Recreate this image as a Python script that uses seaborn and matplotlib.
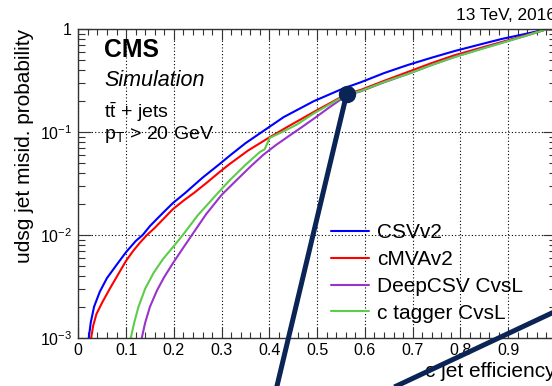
import numpy as np
import pandas as pd
import matplotlib
matplotlib.use("Agg")
import matplotlib.pyplot as plt
import seaborn as sns
from matplotlib.ticker import MultipleLocator, FixedLocator, FixedFormatter, LogLocator, NullFormatter, FuncFormatter

# ---------------- data ----------------
taggers = ["CSVv2", "cMVAv2", "DeepCSV CvsL", "c tagger CvsL"]
colors = ["#0000ff", "#ff0000", "#9a33cc", "#5ccc4a"]

csv_eff = [0.022, 0.026, 0.033, 0.045, 0.060, 0.080, 0.100, 0.120, 0.135, 0.150, 0.175, 0.198, 0.223,
           0.260, 0.296, 0.317, 0.350, 0.384, 0.430, 0.493, 0.554, 0.591, 0.640, 0.690, 0.740, 0.788,
           0.840, 0.886, 0.935, 0.980, 1.000]
csv_mis = [0.001, 0.0014, 0.0020, 0.0028, 0.0038, 0.0051, 0.0068, 0.0087, 0.0100, 0.0122, 0.0160, 0.0204,
           0.0254, 0.036, 0.049, 0.059, 0.078, 0.100, 0.140, 0.200, 0.265, 0.305, 0.375, 0.450, 0.530,
           0.615, 0.710, 0.805, 0.900, 1.000, 1.000]

cmva_eff = [0.027, 0.031, 0.038, 0.050, 0.066, 0.083, 0.100, 0.115, 0.129, 0.144, 0.160, 0.180, 0.198,
            0.220, 0.244, 0.270, 0.296, 0.317, 0.355, 0.395, 0.440, 0.493, 0.562, 0.591, 0.640, 0.690,
            0.740, 0.788, 0.840, 0.886, 0.935, 0.980, 1.000]
cmva_mis = [0.001, 0.0013, 0.0017, 0.0022, 0.0030, 0.0041, 0.0056, 0.0070, 0.0084, 0.0100, 0.0117, 0.0146,
            0.0178, 0.0215, 0.0260, 0.0325, 0.041, 0.049, 0.066, 0.086, 0.114, 0.157, 0.235, 0.257, 0.315,
            0.385, 0.470, 0.560, 0.655, 0.752, 0.870, 1.000, 1.000]

deep_eff = [0.133, 0.140, 0.150, 0.165, 0.180, 0.198, 0.218, 0.238, 0.268, 0.300, 0.331, 0.360, 0.387,
            0.414, 0.440, 0.467, 0.493, 0.527, 0.562, 0.591, 0.640, 0.690, 0.740, 0.788, 0.840, 0.886,
            0.935, 0.980, 1.000]
deep_mis = [0.001, 0.0014, 0.0020, 0.0029, 0.0039, 0.0053, 0.0073, 0.0100, 0.0160, 0.0245, 0.034, 0.046,
            0.060, 0.075, 0.091, 0.111, 0.135, 0.176, 0.228, 0.249, 0.305, 0.368, 0.450, 0.540, 0.640,
            0.740, 0.860, 1.000, 1.000]

ctag_eff = [0.110, 0.117, 0.126, 0.140, 0.158, 0.177, 0.198, 0.219, 0.250, 0.292, 0.317, 0.350, 0.380,
            0.390, 0.401, 0.430, 0.457, 0.493, 0.562, 0.591, 0.640, 0.690, 0.740, 0.788, 0.840, 0.886,
            0.935, 0.980, 1.000]
ctag_mis = [0.001, 0.0014, 0.0020, 0.0030, 0.0043, 0.0058, 0.0076, 0.0100, 0.0155, 0.0255, 0.034, 0.048,
            0.064, 0.068, 0.088, 0.102, 0.118, 0.152, 0.232, 0.251, 0.307, 0.368, 0.450, 0.537, 0.635,
            0.735, 0.860, 1.000, 1.000]

# annotation overlay (dot + two thick connector lines), in data coordinates
dot_eff, dot_mis = [0.562], [0.237]
line1_eff, line1_mis = [0.562, 0.384], [0.237, 8.1e-5]
line2_eff, line2_mis = [0.568, 1.091], [2.07e-4, 2.87e-3]
navy = "#0a2456"

xtick_vals = [0.0, 0.1, 0.2, 0.3, 0.4, 0.5, 0.6, 0.7, 0.8, 0.9, 1.0]
ytick_vals = [1e-3, 1e-2, 1e-1, 1.0]
ytick_labels = ["10$^{-3}$", "10$^{-2}$", "10$^{-1}$", "1"]

# ---------------- style ----------------
sns.set_theme(style="ticks")
plt.rcParams["font.family"] = ["Liberation Sans", "DejaVu Sans"]
plt.rcParams["mathtext.fontset"] = "custom"
plt.rcParams["mathtext.rm"] = "Liberation Sans"
plt.rcParams["mathtext.it"] = "Liberation Sans:italic"
plt.rcParams["mathtext.bf"] = "Liberation Sans:bold"
plt.rcParams["mathtext.default"] = "regular"
plt.rcParams["text.color"] = "black"
plt.rcParams["axes.labelcolor"] = "black"
plt.rcParams["xtick.color"] = "black"
plt.rcParams["ytick.color"] = "black"

frames = []
for name, e, m in zip(taggers, [csv_eff, cmva_eff, deep_eff, ctag_eff],
                      [csv_mis, cmva_mis, deep_mis, ctag_mis]):
    frames.append(pd.DataFrame({"eff": e, "mis": m, "tagger": name}))
df = pd.concat(frames, ignore_index=True)

fig = plt.figure(figsize=(5.52, 3.86), dpi=100)
ax = fig.add_axes([78.3 / 552, 48.3 / 386, 477.7 / 552, 308.4 / 386])

sns.lineplot(data=df, x="eff", y="mis", hue="tagger", hue_order=taggers,
             palette=dict(zip(taggers, colors)), estimator=None, sort=False,
             lw=1.5, ax=ax)

ax.set_yscale("log")
ax.set_xlim(0, 1)
ax.set_ylim(1e-3, 1)

# ticks
ax.xaxis.set_major_locator(FixedLocator(xtick_vals))
ax.xaxis.set_minor_locator(MultipleLocator(0.02))
ax.xaxis.set_major_formatter(FuncFormatter(
    lambda v, p: "0" if abs(v) < 1e-9 else ("" if v > 0.99 else f"{v:.1f}")))
ax.yaxis.set_major_locator(FixedLocator(ytick_vals))
ax.yaxis.set_major_formatter(FixedFormatter(ytick_labels))
ax.yaxis.set_minor_locator(LogLocator(base=10, subs=np.arange(2, 10)))
ax.yaxis.set_minor_formatter(NullFormatter())

ax.tick_params(which="both", direction="in", top=True, right=True, color="#333333", width=0.8,
               labelsize=11.5, labelcolor="black")
ax.tick_params(axis="x", which="major", length=8, pad=3.5)
ax.tick_params(axis="x", which="minor", length=4)
ax.tick_params(axis="y", which="major", length=9.4, pad=4.5)
ax.tick_params(axis="y", which="minor", length=5)

for s in ax.spines.values():
    s.set_color("#333333")
    s.set_linewidth(1.0)

ax.grid(True, which="major", ls=(0, (1, 2)), color="black", lw=0.8)

ax.set_xlabel("c jet efficiency", fontsize=15, loc="right", color="black")
ax.xaxis.set_label_coords(1.0, -0.080)
ax.set_ylabel("udsg jet misid. probability", fontsize=15, loc="top", color="black")
ax.yaxis.set_label_coords(-0.093, 1.0)

# legend
h, l = ax.get_legend_handles_labels()
leg = ax.legend(h, l, loc="upper left", bbox_to_anchor=(0.529, 0.372), frameon=False,
                fontsize=15, handlelength=1.8, handletextpad=0.4, labelspacing=0.38,
                borderpad=0, borderaxespad=0, labelcolor="black")
for lh in leg.get_lines():
    lh.set_linewidth(1.5)

# texts
ax.text(0.054, 0.910, "CMS", transform=ax.transAxes, fontsize=17.8, fontweight="bold",
        va="baseline", ha="left", color="black")
ax.text(0.054, 0.816, "Simulation", transform=ax.transAxes, fontsize=15.5, style="italic",
        va="baseline", ha="left", color="black")
ax.text(0.054, 0.712, r"$\mathrm{t\bar{t}}$ + jets", transform=ax.transAxes, fontsize=14,
        va="baseline", ha="left", color="black")
ax.text(0.054, 0.644, r"p$_\mathrm{T}$ > 20 GeV", transform=ax.transAxes, fontsize=14,
        va="baseline", ha="left", color="black")
ax.text(1.0, 1.030, "13 TeV, 2016", transform=ax.transAxes, fontsize=12.4,
        va="baseline", ha="right", color="black")

# overlay annotation
ax.plot(line1_eff, line1_mis, color=navy, lw=3.6, clip_on=False, zorder=6, solid_capstyle="butt")
ax.plot(line2_eff, line2_mis, color=navy, lw=3.6, clip_on=False, zorder=6, solid_capstyle="butt")
ax.plot(dot_eff, dot_mis, "o", color=navy, ms=11.5, clip_on=False, zorder=7)

fig.savefig("out.png", dpi=100)
